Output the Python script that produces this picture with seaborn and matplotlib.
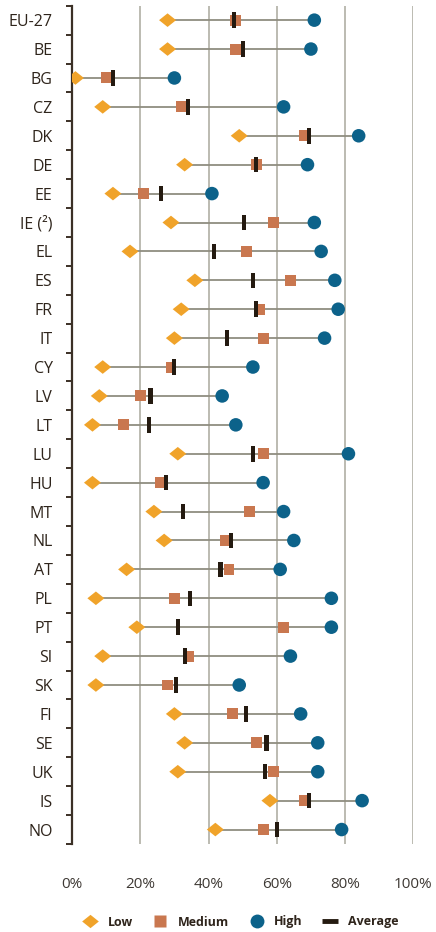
import numpy as np
import pandas as pd
import matplotlib
matplotlib.use("Agg")
import matplotlib.pyplot as plt
from matplotlib.lines import Line2D
from matplotlib.path import Path
import seaborn as sns

countries = ["EU-27", "BE", "BG", "CZ", "DK", "DE", "EE", "IE (²)", "EL", "ES",
             "FR", "IT", "CY", "LV", "LT", "LU", "HU", "MT", "NL", "AT",
             "PL", "PT", "SI", "SK", "FI", "SE", "UK", "IS", "NO"]
low = [28, 28, 1, 9, 49, 33, 12, 29, 17, 36,
       32, 30, 9, 8, 6, 31, 6, 24, 27, 16,
       7, 19, 9, 7, 30, 33, 31, 58, 42]
medium = [48, 48, 10, 32, 68, 54, 21, 59, 51, 64,
          55, 56, 29, 20, 15, 56, 26, 52, 45, 46,
          30, 62, 34, 28, 47, 54, 59, 68, 56]
high = [71, 70, 30, 62, 84, 69, 41, 71, 73, 77,
        78, 74, 53, 44, 48, 81, 56, 62, 65, 61,
        76, 76, 64, 49, 67, 72, 72, 85, 79]
average = [47.5, 50, 12, 34, 69.5, 54, 26, 50.5, 41.5, 53,
           54, 45.5, 30, 23, 22.5, 53, 27.5, 32.5, 46.5, 43.5,
           34.5, 31, 33, 30.5, 51, 57, 56.5, 69.5, 60]
x_ticks = [0, 20, 40, 60, 80, 100]
x_tick_labels = ["0%", "20%", "40%", "60%", "80%", "100%"]

df = pd.DataFrame({"country": countries, "Low": low, "Medium": medium,
                   "High": high, "Average": average})
df["pos"] = np.arange(len(df))

C_LOW = "#f0a32a"
C_MED = "#c9774f"
C_HIGH = "#0c628a"
C_AVG = "#241a10"
C_LINE = "#8f8d80"
C_GRID = "#aaa89c"
C_TEXT = "#2e241b"

plt.rcParams["font.family"] = ["Open Sans", "DejaVu Sans"]

# Marker shapes: a flattened diamond and a vertical bar
diamond = Path([(-1.0, 0), (0, 0.8), (1.0, 0), (0, -0.8), (-1.0, 0)],
               [Path.MOVETO, Path.LINETO, Path.LINETO, Path.LINETO, Path.CLOSEPOLY])
bar = Path([(-0.27, -1), (0.27, -1), (0.27, 1), (-0.27, 1), (-0.27, -1)],
           [Path.MOVETO, Path.LINETO, Path.LINETO, Path.LINETO, Path.CLOSEPOLY])

fig = plt.figure(figsize=(4.36, 9.32), dpi=100)
ax = fig.add_axes([72 / 436, 1 - 844 / 932, (413.3 - 72) / 436, (844 - 5.7) / 932])

# Range line from lowest to highest group
lo = df[["Low", "Medium", "High", "Average"]].min(axis=1)
hi = df[["Low", "Medium", "High", "Average"]].max(axis=1)
ax.hlines(df["pos"], lo, hi, color=C_LINE, lw=1.3, zorder=2)

sns.scatterplot(data=df, x="Low", y="pos", marker=diamond, s=150, color=C_LOW,
                edgecolor="none", ax=ax, zorder=3)
sns.scatterplot(data=df, x="Medium", y="pos", marker="s", s=62, color=C_MED,
                edgecolor="none", ax=ax, zorder=4)
sns.scatterplot(data=df, x="High", y="pos", marker="o", s=95, color=C_HIGH,
                edgecolor="none", ax=ax, zorder=5)
sns.scatterplot(data=df, x="Average", y="pos", marker=bar, s=125, color=C_AVG,
                edgecolor="none", ax=ax, zorder=6)

ax.set_xlim(0, 100)
ax.set_ylim(len(df) - 0.5, -0.5)
ax.set_xlabel("")
ax.set_ylabel("")

ax.set_xticks(x_ticks)
ax.set_xticklabels(x_tick_labels)
ax.set_yticks(df["pos"])
ax.set_yticklabels(df["country"])
ax.set_yticks(np.arange(len(df) + 1) - 0.5, minor=True)

for s in ["top", "right", "bottom"]:
    ax.spines[s].set_visible(False)
ax.spines["left"].set_color("#3b3026")
ax.spines["left"].set_linewidth(1.6)

ax.tick_params(axis="y", which="major", length=0, pad=14, labelsize=11.5, labelcolor=C_TEXT)
ax.tick_params(axis="y", which="minor", length=4, width=1.4, color="#3b3026", direction="out")
ax.tick_params(axis="x", length=0, pad=24, labelsize=11, labelcolor="#3e3934")

for xv in x_ticks[1:]:
    ax.axvline(xv, color=C_GRID, lw=1.1, zorder=1)

handles = [
    Line2D([], [], ls="none", marker=diamond, ms=12, color=C_LOW, mec="none"),
    Line2D([], [], ls="none", marker="s", ms=8, color=C_MED, mec="none"),
    Line2D([], [], ls="none", marker="o", ms=10, color=C_HIGH, mec="none"),
    Line2D([], [], ls="none", marker="_", ms=11, mew=3.5, color=C_AVG),
]
leg = fig.legend(handles, ["Low", "Medium", "High", "Average"], ncol=4,
                 loc="center", bbox_to_anchor=(0.55, 1 - 922 / 932), frameon=False,
                 handletextpad=0.7, columnspacing=1.5, handlelength=1.4,
                 prop={"weight": "bold", "size": 9})
for t in leg.get_texts():
    t.set_color(C_TEXT)

fig.savefig("out.png", dpi=100)
